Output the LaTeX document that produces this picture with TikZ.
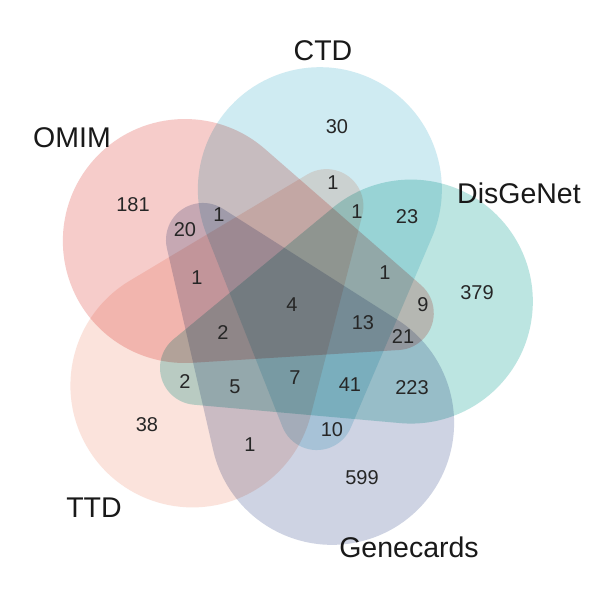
\documentclass[tikz,border=0pt]{standalone}
\usepackage{fontspec}
\setmainfont{Liberation Sans}
\definecolor{omimcol}{RGB}{246,204,202}
\definecolor{ctdcol}{RGB}{207,235,242}
\definecolor{disgcol}{RGB}{188,229,225}
\definecolor{genecol}{RGB}{206,211,227}
\definecolor{ttdcol}{RGB}{251,227,220}
% one set: round head plus a narrow tail, turned about the middle
\newcommand{\vennpetal}[2]{%
	\fill[#2, blend mode=multiply, x=1pt, y=1pt, shift={(288,-308)}, rotate=#1]
		(105.81,-120.78) arc[start angle=-98.1, end angle=126.54, radius=122]
		-- (-116.03,-25.27) arc[start angle=126.54, end angle=261.9, radius=37] -- cycle;}
\begin{document}
\begin{tikzpicture}[x=1pt, y=-1pt,
	setname/.style={font=\fontsize{28.5}{30}\selectfont, text=black!90},
	count/.style={font=\fontsize{20}{22}\selectfont, text=black!85}]
	\fill[white] (0,0) rectangle (603,603);
	\useasboundingbox (0,0) rectangle (603,603);
	% the five sets
	\vennpetal{147}{omimcol}
	\vennpetal{75}{ctdcol}
	\vennpetal{3}{disgcol}
	\vennpetal{291}{genecol}
	\vennpetal{219}{ttdcol}
	% set names
	\node[setname] (omim) at (72,138) {OMIM};
	\node[setname] (ctd) at (323,51) {CTD};
	\node[setname] (disg) at (519,193) {DisGeNet};
	\node[setname] (gene) at (409,547) {Genecards};
	\node[setname] (ttd) at (94,508) {TTD};
	% counts
	\node[count] (n181) at (133,205) {181};
	\node[count] (n30) at (337,127) {30};
	\node[count] (n379) at (477,293) {379};
	\node[count] (n599) at (362,478) {599};
	\node[count] (n38) at (147,425) {38};
	\node[count] (og) at (185,230) {20};
	\node[count] (ogc) at (219,215) {1};
	\node[count] (ct) at (333,183) {1};
	\node[count] (ctd3) at (357,212) {1};
	\node[count] (cd) at (407,217) {23};
	\node[count] (ogt) at (197,278) {1};
	\node[count] (ogtd) at (223,333) {2};
	\node[count] (all) at (292,305) {4};
	\node[count] (odc) at (385,273) {1};
	\node[count] (do) at (423,305) {9};
	\node[count] (odcg) at (363,323) {13};
	\node[count] (dog) at (403,337) {21};
	\node[count] (td) at (185,382) {2};
	\node[count] (tdg) at (235,387) {5};
	\node[count] (cdgt) at (295,378) {7};
	\node[count] (gcd) at (350,385) {41};
	\node[count] (dg) at (412,388) {223};
	\node[count] (gc) at (332,430) {10};
	\node[count] (gt) at (250,445) {1};
\end{tikzpicture}
\end{document}
